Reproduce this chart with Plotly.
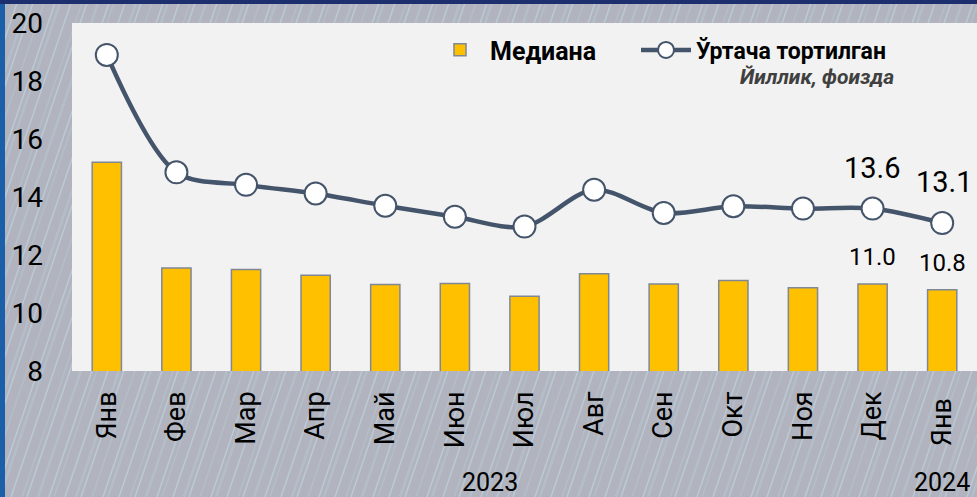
import plotly.graph_objects as go

months = ["Янв", "Фев", "Мар", "Апр", "Май", "Июн", "Июл", "Авг", "Сен", "Окт", "Ноя", "Дек", "Янв "]
median = [15.2, 11.55, 11.5, 11.3, 10.98, 11.02, 10.58, 11.35, 11.0, 11.12, 10.87, 11.0, 10.8]
weighted = [18.9, 14.85, 14.42, 14.12, 13.7, 13.32, 12.98, 14.25, 13.45, 13.68, 13.6, 13.6, 13.1]
year_labels = ["2023", "2024"]
year_pos = [5.5, 12]
label_idx = [11, 12]

FONT = "Roboto"
LINE_C = "#44546a"
W, H = 977, 497
ML, MT, MB = 72, 23, 126
PW, PH = W - ML, H - MT - MB


def px(xp):
    return (xp - ML) / PW


def py(yp):
    return (H - MB - yp) / PH


fig = go.Figure()
fig.add_trace(go.Bar(
    x=months, y=median, name="Медиана", width=0.42, legend="legend",
    marker=dict(color="#ffc000", line=dict(color="#7f8896", width=1.5)),
))
fig.add_trace(go.Scatter(
    x=months, y=weighted, name="Ўртача тортилган", mode="lines+markers", legend="legend2",
    line=dict(color=LINE_C, width=4.5, shape="spline", smoothing=0.9),
    marker=dict(symbol="circle", size=22, color="white", line=dict(color=LINE_C, width=2)),
))

annotations = []
for i in label_idx:
    annotations.append(dict(x=months[i], y=weighted[i], xref="x", yref="y",
                            text=f"{weighted[i]:.1f}", showarrow=False, yshift=41, xshift=2 * (i - 11),
                            font=dict(family=FONT, size=29, color="black")))
    annotations.append(dict(x=months[i], y=median[i], xref="x", yref="y",
                            text=f"{median[i]:.1f}", showarrow=False, yshift=27,
                            font=dict(family=FONT, size=24, color="black")))
for lbl, pos in zip(year_labels, year_pos):
    annotations.append(dict(x=pos, y=py(482), xref="x", yref="paper", text=lbl,
                            showarrow=False, yanchor="middle",
                            font=dict(family=FONT, size=25, color="black")))
annotations.append(dict(x=px(896), y=py(77), xref="paper", yref="paper",
                        text="<b><i>Йиллик, фоизда</i></b>", showarrow=False,
                        xanchor="right", yanchor="middle",
                        font=dict(family=FONT, size=21, color="#404040")))

# decorative background: diagonal light streaks, dark frame strips, then plot-area panel
shapes = []
slope = 0.34
for k in range(-20, 120):
    x_bottom = k * 9 + (k % 3) * 2
    x_top = x_bottom + slope * H
    shapes.append(dict(type="line", xref="paper", yref="paper",
                       x0=px(x_bottom), y0=py(H), x1=px(x_top), y1=py(0),
                       line=dict(color="rgba(200,228,240,0.45)" if k % 2 else "rgba(190,220,235,0.25)",
                                 width=1.5 if k % 4 else 2.5),
                       layer="below"))
shapes += [
    dict(type="rect", xref="paper", yref="paper", x0=px(0), x1=px(5), y0=py(H), y1=py(0),
         fillcolor="#1a5fa8", line=dict(width=0), layer="below"),
    dict(type="rect", xref="paper", yref="paper", x0=px(0), x1=px(W), y0=py(4), y1=py(0),
         fillcolor="#1d2f6e", line=dict(width=0), layer="below"),
    dict(type="rect", xref="paper", yref="paper", x0=0, x1=1, y0=0, y1=1,
         fillcolor="#f2f2f2", line=dict(width=0), layer="below"),
]

fig.update_layout(
    width=W, height=H,
    margin=dict(l=ML, r=0, t=MT, b=MB),
    paper_bgcolor="#b1b4be", plot_bgcolor="rgba(0,0,0,0)",
    font=dict(family=FONT, color="black"),
    showlegend=True,
    legend=dict(orientation="h", x=px(430), y=py(50), xanchor="left", yanchor="middle",
                bgcolor="rgba(0,0,0,0)", font=dict(family=FONT, size=25, color="black", weight="bold"),
                itemwidth=50),
    legend2=dict(orientation="h", x=px(636), y=py(50), xanchor="left", yanchor="middle",
                 bgcolor="rgba(0,0,0,0)", font=dict(family=FONT, size=23, color="black", weight="bold"),
                 itemwidth=50),
    annotations=annotations,
    shapes=shapes,
)
fig.update_xaxes(type="category", range=[-0.5, 12.5], tickangle=-90, showgrid=False,
                 showline=False, zeroline=False, tickfont=dict(family=FONT, size=27, color="black"),
                 ticklabelstandoff=14)
fig.update_yaxes(range=[8, 20], dtick=2, showgrid=False, zeroline=False, showline=False,
                 tickfont=dict(family=FONT, size=28, color="black"), ticklabelstandoff=28)

fig.write_html("out.html", config={"displayModeBar": False},
               post_script="document.body.style.margin='0';document.body.style.overflow='hidden';")
